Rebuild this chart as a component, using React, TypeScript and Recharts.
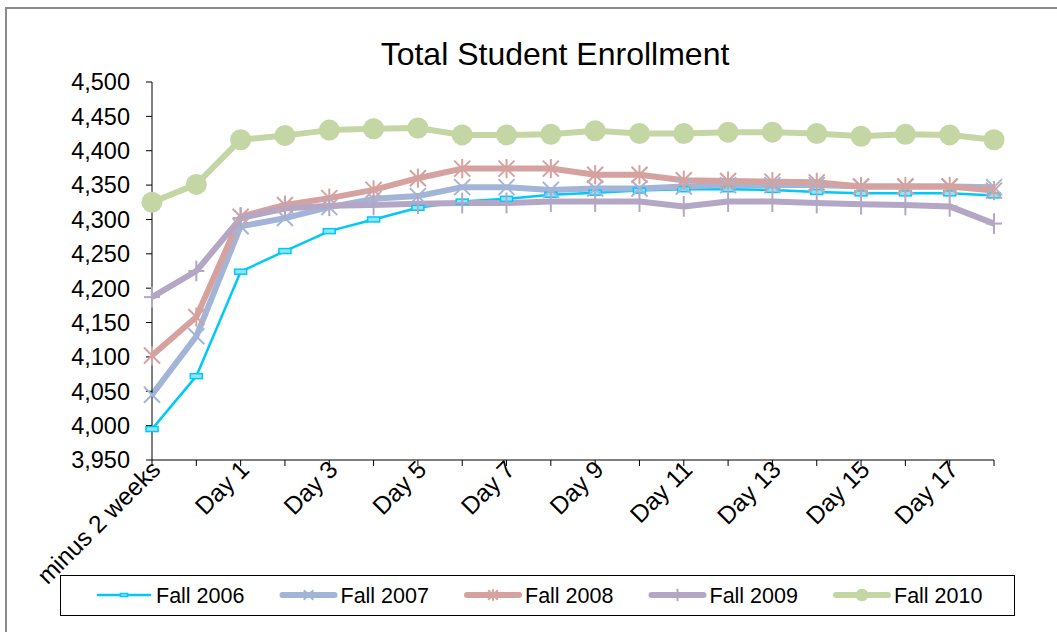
import React from "react";
import { LineChart, Line, XAxis, YAxis } from "recharts";

const categories = [
  "minus 2 weeks", "minus 1 week", "Day 1", "Day 2", "Day 3", "Day 4", "Day 5", "Day 6", "Day 7", "Day 8",
  "Day 9", "Day 10", "Day 11", "Day 12", "Day 13", "Day 14", "Day 15", "Day 16", "Day 17", "Day 18",
];
const fall2006 = [3995, 4072, 4224, 4254, 4283, 4300, 4317, 4326, 4330, 4336, 4339, 4342, 4344, 4344, 4343, 4340, 4338, 4338, 4338, 4335];
const fall2007 = [4045, 4130, 4290, 4302, 4318, 4330, 4334, 4347, 4347, 4343, 4345, 4345, 4348, 4350, 4350, 4350, 4348, 4348, 4348, 4347];
const fall2008 = [4102, 4158, 4304, 4321, 4331, 4343, 4360, 4374, 4374, 4374, 4365, 4365, 4357, 4356, 4355, 4354, 4348, 4348, 4348, 4342];
const fall2009 = [4187, 4225, 4302, 4316, 4320, 4321, 4323, 4324, 4324, 4326, 4326, 4326, 4319, 4326, 4326, 4324, 4322, 4321, 4319, 4294];
const fall2010 = [4325, 4351, 4416, 4422, 4430, 4432, 4433, 4423, 4423, 4424, 4429, 4425, 4425, 4427, 4427, 4425, 4421, 4424, 4423, 4416];
const yTicks = [3950, 4000, 4050, 4100, 4150, 4200, 4250, 4300, 4350, 4400, 4450, 4500];

const FONT = "'Liberation Sans', Arial, sans-serif";

type Shape = "dash" | "x" | "star" | "plus" | "circle";
const series: { key: string; name: string; color: string; width: number; shape: Shape; values: number[] }[] = [
  { key: "f2006", name: "Fall 2006", color: "#00C8F8", width: 2.5, shape: "dash", values: fall2006 },
  { key: "f2007", name: "Fall 2007", color: "#A2B5D6", width: 6, shape: "x", values: fall2007 },
  { key: "f2008", name: "Fall 2008", color: "#D6A29F", width: 6, shape: "star", values: fall2008 },
  { key: "f2009", name: "Fall 2009", color: "#B4A7C5", width: 6, shape: "plus", values: fall2009 },
  { key: "f2010", name: "Fall 2010", color: "#C4D6A4", width: 6, shape: "circle", values: fall2010 },
];

const data = categories.map((c, i) => {
  const row: Record<string, string | number> = { label: c };
  series.forEach((s) => (row[s.key] = s.values[i]));
  return row;
});

function Marker({ cx, cy, shape, color, s = 1 }: { cx: number; cy: number; shape: Shape; color: string; s?: number }) {
  const r = 8 * s;
  switch (shape) {
    case "dash":
      return <rect x={cx - 6 * s} y={cy - 2.5 * s} width={12 * s} height={5 * s} fill="#8FE4FF" stroke={color} strokeWidth={1.5} />;
    case "x":
      return (
        <g stroke={color} strokeWidth={2}>
          <line x1={cx - r} y1={cy - r} x2={cx + r} y2={cy + r} />
          <line x1={cx - r} y1={cy + r} x2={cx + r} y2={cy - r} />
        </g>
      );
    case "star":
      return (
        <g stroke={color} strokeWidth={2}>
          <line x1={cx - r} y1={cy - r} x2={cx + r} y2={cy + r} />
          <line x1={cx - r} y1={cy + r} x2={cx + r} y2={cy - r} />
          <line x1={cx} y1={cy - r * 1.2} x2={cx} y2={cy + r * 1.2} />
        </g>
      );
    case "plus":
      return (
        <g stroke={color} strokeWidth={2}>
          <line x1={cx - r} y1={cy} x2={cx + r} y2={cy} />
          <line x1={cx} y1={cy - r * 1.3} x2={cx} y2={cy + r * 1.3} />
        </g>
      );
    default:
      return <circle cx={cx} cy={cy} r={10.5 * s} fill={color} />;
  }
}

const XTick = (props: any) => {
  const { x, y, payload, index } = props;
  if (index % 2 !== 0) return <g />;
  const ax = x + 10;
  const ay = y + 3;
  return (
    <text x={ax} y={ay} transform={`rotate(-45, ${ax}, ${ay})`} textAnchor="end" fontSize={24.5} fontFamily={FONT} fill="#000">
      {payload.value}
    </text>
  );
};

export default function App() {
  return (
    <div style={{ position: "absolute", left: 0, top: 0, width: 1057, height: 632, overflow: "hidden", background: "#fff" }}>
      <div style={{ position: "absolute", left: 5, top: 7, width: 1100, height: 700, border: "2px solid #8a8a8a", boxSizing: "border-box" }} />
      <div style={{ position: "absolute", left: 0, top: 0 }}>
        <LineChart width={1057} height={632} data={data} margin={{ top: 82, right: 63, bottom: 72, left: 52 }}>
          <XAxis
            dataKey="label"
            interval={0}
            height={100}
            tick={<XTick />}
            tickSize={6}
            stroke="#000"
            axisLine={{ stroke: "#000" }}
            tickLine={{ stroke: "#000" }}
            padding={{ left: 0, right: 0 }}
          />
          <YAxis
            width={100}
            domain={[3950, 4500]}
            ticks={yTicks}
            interval={0}
            tickSize={6}
            tickMargin={16}
            tickFormatter={(v: number) => v.toLocaleString("en-US")}
            tick={{ fontSize: 23.5, fontFamily: FONT, fill: "#000" }}
            stroke="#000"
            allowDataOverflow
          />
          {series.map((s) => (
            <Line
              key={s.key}
              dataKey={s.key}
              name={s.name}
              stroke={s.color}
              strokeWidth={s.width}
              strokeLinejoin="round"
              isAnimationActive={false}
              dot={(p: any) => (
                <g key={`${s.key}-${p.index}`}>
                  <Marker cx={p.cx} cy={p.cy} shape={s.shape} color={s.color} />
                </g>
              )}
              activeDot={false}
            />
          ))}
        </LineChart>
      </div>
      <svg width={1057} height={632} style={{ position: "absolute", left: 0, top: 0, pointerEvents: "none" }}>
        <text x={555} y={65} textAnchor="middle" fontSize={32} fontFamily={FONT} fill="#000">
          Total Student Enrollment
        </text>
        <rect x={60.5} y={575.5} width={954} height={40} fill="#fff" stroke="#000" strokeWidth={1} />
        {series.map((s, i) => {
          const lx = 98 + i * 184.5;
          return (
            <g key={s.key}>
              <line x1={lx} y1={595} x2={lx + 52} y2={595} stroke={s.color} strokeWidth={s.width} strokeLinecap="round" />
              <Marker cx={lx + 26} cy={595} shape={s.shape} color={s.color} s={0.6} />
              <text x={lx + 58} y={603} fontSize={21.5} fontFamily={FONT} fill="#000">
                {s.name}
              </text>
            </g>
          );
        })}
      </svg>
    </div>
  );
}
